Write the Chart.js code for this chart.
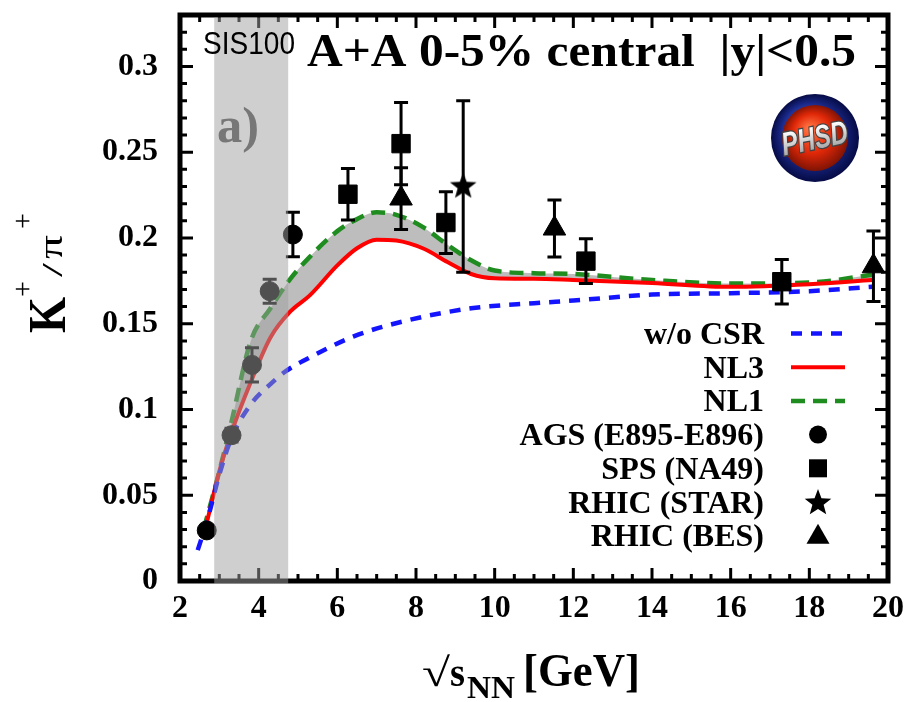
<!DOCTYPE html>
<html>
<head>
<meta charset="utf-8">
<script src="https://cdn.jsdelivr.net/npm/chart.js@4.4.1/dist/chart.umd.min.js"></script>
<style>
  body { margin: 0; background: #fff; }
  canvas { display: block; }
</style>
</head>
<body>
<canvas id="chart" width="908" height="702"></canvas>
<script>
// PHSD curves (NL3 and NL1 share the same energies so the band between them can be filled)
const curveX = [2.6, 3.0, 3.3, 3.8, 4.3, 4.8, 5.3, 6.0, 6.5, 7.0, 7.5, 8.2, 8.8, 9.4, 10.0, 11.0, 12.0, 14.0, 16.0, 18.0, 19.6];
const nl3 = [0.026, 0.064, 0.086, 0.116, 0.142, 0.157, 0.1665, 0.184, 0.194, 0.199, 0.1985, 0.1937, 0.186, 0.179, 0.1765, 0.1762, 0.1755, 0.1738, 0.1715, 0.173, 0.1755];
const nl1 = [0.030, 0.064, 0.092, 0.140, 0.159, 0.176, 0.189, 0.204, 0.211, 0.215, 0.2135, 0.206, 0.196, 0.187, 0.181, 0.1795, 0.179, 0.1755, 0.1734, 0.174, 0.1785];
const csrX = [2.45, 2.7, 3.0, 3.3, 3.8, 4.3, 4.7, 5.4, 6.4, 7.7, 9.4, 11.0, 12.0, 14.0, 16.0, 18.0, 19.6];
const noCsr = [0.018, 0.036, 0.062, 0.083, 0.103, 0.1148, 0.1225, 0.1315, 0.1425, 0.1515, 0.159, 0.162, 0.1635, 0.167, 0.1678, 0.169, 0.1715];

// measurements
const agsX = [2.68, 3.31, 3.83, 4.28, 4.87];
const agsY = [0.0295, 0.085, 0.126, 0.169, 0.202];
const agsErr = [0.002, 0.004, 0.010, 0.007, 0.013];
const na49X = [6.27, 7.62, 8.76, 12.32, 17.3];
const na49Y = [0.2255, 0.255, 0.209, 0.1865, 0.1745];
const na49Err = [0.015, 0.024, 0.018, 0.013, 0.013];
const starX = [9.2];
const starY = [0.230];
const starErr = [0.05];
const besX = [7.62, 11.52, 19.63];
const besY = [0.223, 0.2055, 0.1835];
const besErr = [0.018, 0.0166, 0.0205];

const xTicks = [2, 4, 6, 8, 10, 12, 14, 16, 18, 20];
const yTicks = [0, 0.05, 0.1, 0.15, 0.2, 0.25, 0.3];
const xMinorStep = 0.5;
const yMinorStep = 0.01;
const sisBand = [2.87, 4.75];

const legendLabels = ["w/o CSR", "NL3", "NL1", "AGS (E895-E896)", "SPS (NA49)", "RHIC (STAR)", "RHIC (BES)"];

const SERIF = '"Liberation Serif", "DejaVu Serif", serif';
const zip = (xs, ys) => xs.map((x, i) => ({ x, y: ys[i] }));

// filled five point star used as a point style
function makeStar(r) {
  const c = document.createElement("canvas");
  c.width = c.height = 2 * r + 2;
  const g = c.getContext("2d");
  starPath(g, r + 1, r + 1, r, r * 0.42);
  g.fillStyle = "#000";
  g.fill();
  return c;
}
function starPath(g, cx, cy, ro, ri) {
  g.beginPath();
  for (let i = 0; i < 10; i++) {
    const a = -Math.PI / 2 + (i * Math.PI) / 5;
    const r = i % 2 ? ri : ro;
    g.lineTo(cx + r * Math.cos(a), cy + r * Math.sin(a));
  }
  g.closePath();
}
const starImg = makeStar(14);

function fitText(ctx, text, x, y, font, w, align) {
  ctx.save();
  ctx.font = font;
  const m = ctx.measureText(text).width;
  const s = w ? w / m : 1;
  ctx.translate(x, y);
  ctx.scale(s, 1);
  ctx.textAlign = align || "left";
  ctx.fillText(text, 0, 0);
  ctx.restore();
}

function drawLogo(ctx, cx, cy) {
  ctx.save();
  let g = ctx.createRadialGradient(cx - 12, cy - 14, 4, cx, cy, 44);
  g.addColorStop(0, "#4a5fd0");
  g.addColorStop(0.6, "#1c2c90");
  g.addColorStop(1, "#060b45");
  ctx.fillStyle = g;
  ctx.beginPath(); ctx.arc(cx, cy, 44, 0, Math.PI * 2); ctx.fill();
  g = ctx.createRadialGradient(cx - 6, cy - 10, 2, cx, cy, 34);
  g.addColorStop(0, "#ff7040");
  g.addColorStop(0.55, "#e02808");
  g.addColorStop(1, "#7a1204");
  ctx.fillStyle = g;
  ctx.beginPath(); ctx.arc(cx, cy, 33, 0, Math.PI * 2); ctx.fill();
  ctx.translate(cx, cy + 2);
  ctx.rotate(-0.2);
  ctx.scale(1, 1.35);
  ctx.font = 'italic bold 24px "Liberation Sans", sans-serif';
  ctx.textAlign = "center";
  ctx.textBaseline = "middle";
  const tg = ctx.createLinearGradient(0, -10, 0, 10);
  tg.addColorStop(0, "#ffffff");
  tg.addColorStop(1, "#9a9a9a");
  ctx.lineWidth = 2;
  ctx.strokeStyle = "#444";
  ctx.strokeText("PHSD", 0, 0);
  ctx.fillStyle = tg;
  ctx.fillText("PHSD", 0, 0);
  ctx.restore();
}

const decorations = {
  id: "decorations",
  beforeDatasetDraw(chart, args) {
    const ds = chart.data.datasets[args.index];
    if (!ds.err) return;
    const { ctx, scales: { x, y } } = chart;
    ctx.save();
    ctx.strokeStyle = "#000";
    ctx.lineWidth = 3;
    ds.data.forEach((p, i) => {
      const px = x.getPixelForValue(p.x);
      const y1 = y.getPixelForValue(p.y - ds.err[i]);
      const y2 = y.getPixelForValue(p.y + ds.err[i]);
      ctx.beginPath();
      ctx.moveTo(px, y1); ctx.lineTo(px, y2);
      ctx.moveTo(px - 7, y1); ctx.lineTo(px + 7, y1);
      ctx.moveTo(px - 7, y2); ctx.lineTo(px + 7, y2);
      ctx.stroke();
    });
    ctx.restore();
  },
  afterDraw(chart) {
    const { ctx, chartArea: a, scales: { x, y } } = chart;
    ctx.save();
    ctx.fillStyle = "#000";
    ctx.strokeStyle = "#000";

    // ticks on all four sides, pointing inwards
    ctx.lineWidth = 3;
    ctx.beginPath();
    for (let v = x.min; v <= x.max + 1e-9; v += xMinorStep) {
      const px = x.getPixelForValue(v);
      const len = Math.abs(v / 2 - Math.round(v / 2)) < 1e-6 ? 13 : 7;
      ctx.moveTo(px, a.bottom); ctx.lineTo(px, a.bottom - len);
      ctx.moveTo(px, a.top); ctx.lineTo(px, a.top + len);
    }
    for (let i = 0; i * yMinorStep <= y.max + 1e-9; i++) {
      const py = y.getPixelForValue(i * yMinorStep);
      const len = i % 5 === 0 ? 13 : 7;
      ctx.moveTo(a.left, py); ctx.lineTo(a.left + len, py);
      ctx.moveTo(a.right, py); ctx.lineTo(a.right - len, py);
    }
    ctx.stroke();
    ctx.lineWidth = 5;
    ctx.strokeRect(a.left, a.top, a.right - a.left, a.bottom - a.top);

    // SIS100 energy range
    const bx1 = x.getPixelForValue(sisBand[0]);
    const bx2 = x.getPixelForValue(sisBand[1]);
    ctx.fillStyle = "rgba(160,160,160,0.5)";
    ctx.fillRect(bx1, a.top + 2.5, bx2 - bx1, a.bottom - a.top + 0.5);

    ctx.fillStyle = "#000";
    ctx.textBaseline = "alphabetic";
    fitText(ctx, "SIS100", 203, 54, '32px "Liberation Sans", sans-serif', 92);
    fitText(ctx, "A+A 0-5% central  |y|<0.5", 307, 66, "bold 46px " + SERIF, 549);
    ctx.fillStyle = "#777";
    fitText(ctx, "a)", 217, 142, "bold 50px " + SERIF, 42);

    drawLogo(ctx, 815, 138);

    // legend
    ctx.fillStyle = "#000";
    const lx = 764, sx1 = 791, sx2 = 845, mx = 818;
    legendLabels.forEach((t, i) => {
      const base = 344 + i * 33.7;
      ctx.font = "bold 32px " + SERIF;
      ctx.textAlign = "right";
      ctx.fillText(t, lx, base);
      const cy = base - 10.5;
      ctx.save();
      if (i < 3) {
        const ds = chart.data.datasets[4 + i];
        ctx.strokeStyle = ds.borderColor;
        ctx.lineWidth = ds.borderWidth;
        ctx.setLineDash(ds.borderDash || []);
        ctx.beginPath(); ctx.moveTo(sx1, cy); ctx.lineTo(sx2, cy); ctx.stroke();
      } else if (i === 3) {
        ctx.beginPath(); ctx.arc(mx, cy, 9, 0, Math.PI * 2); ctx.fill();
      } else if (i === 4) {
        ctx.fillRect(mx - 9, cy - 9, 18, 18);
      } else if (i === 5) {
        starPath(ctx, mx, cy + 1, 14, 5.9); ctx.fill();
      } else {
        ctx.beginPath();
        ctx.moveTo(mx, cy - 12); ctx.lineTo(mx + 11.5, cy + 8); ctx.lineTo(mx - 11.5, cy + 8);
        ctx.closePath(); ctx.fill();
      }
      ctx.restore();
    });

    // x axis title: sqrt(s_NN) [GeV]
    ctx.textAlign = "left";
    fitText(ctx, "\u221A", 422, 686, "40px " + SERIF, 28);
    fitText(ctx, "s", 450, 686, "bold 40px " + SERIF, 15);
    fitText(ctx, "NN", 467, 698, "bold 32px " + SERIF, 48);
    fitText(ctx, "[GeV]", 523, 686, "bold 46px " + SERIF, 117);

    // y axis title: K+/pi+
    ctx.save();
    ctx.translate(65, 335);
    ctx.rotate(-Math.PI / 2);
    fitText(ctx, "K", 2, 0, "bold 52px " + SERIF, 36);
    ctx.textBaseline = "middle";
    fitText(ctx, "+", 38, -41, "30px " + SERIF, 16);
    ctx.textBaseline = "alphabetic";
    fitText(ctx, "/", 58, -3, "30px " + SERIF, 14);
    fitText(ctx, "\u03C0", 76, -3, "34px " + SERIF, 24);
    ctx.textBaseline = "middle";
    fitText(ctx, "+", 106, -41, "30px " + SERIF, 16);
    ctx.restore();

    ctx.restore();
  }
};

new Chart(document.getElementById("chart"), {
  type: "scatter",
  data: {
    datasets: [
      { label: "AGS (E895-E896)", data: zip(agsX, agsY), err: agsErr, pointStyle: "circle", pointRadius: 9.5, backgroundColor: "#000", borderColor: "#000" },
      { label: "SPS (NA49)", data: zip(na49X, na49Y), err: na49Err, pointStyle: "rect", pointRadius: 13, backgroundColor: "#000", borderColor: "#000" },
      { label: "RHIC (STAR)", data: zip(starX, starY), err: starErr, pointStyle: starImg, pointRadius: 14 },
      { label: "RHIC (BES)", data: zip(besX, besY), err: besErr, pointStyle: "triangle", pointRadius: 13, backgroundColor: "#000", borderColor: "#000" },
      { label: "w/o CSR", type: "line", data: zip(csrX, noCsr), borderColor: "#1414ff", borderWidth: 4.5, borderDash: [11, 9], pointRadius: 0, cubicInterpolationMode: "monotone", fill: false },
      { label: "NL3", type: "line", data: zip(curveX, nl3), borderColor: "#ff0000", borderWidth: 4, pointRadius: 0, cubicInterpolationMode: "monotone", fill: false },
      { label: "NL1", type: "line", data: zip(curveX, nl1), borderColor: "#1e8c1e", borderWidth: 4.5, borderDash: [14, 8], pointRadius: 0, cubicInterpolationMode: "monotone", fill: "-1", backgroundColor: "#bdbdbd" }
    ]
  },
  options: {
    responsive: false,
    animation: false,
    devicePixelRatio: 1,
    layout: { padding: { top: 10, right: 20, bottom: 0, left: 0 } },
    plugins: { legend: { display: false }, tooltip: { enabled: false } },
    scales: {
      x: {
        type: "linear",
        min: 2,
        max: 20,
        afterBuildTicks: s => { s.ticks = xTicks.map(v => ({ value: v })); },
        afterFit: s => { s.height = 121; s.paddingLeft = 0; s.paddingRight = 0; },
        grid: { display: false, drawTicks: false },
        border: { display: false },
        ticks: { color: "#000", padding: 9, maxRotation: 0, font: { family: SERIF, size: 32, weight: "bold" } }
      },
      y: {
        min: 0,
        max: 0.33,
        afterBuildTicks: s => { s.ticks = yTicks.map(v => ({ value: v })); },
        afterFit: s => { s.width = 180; s.paddingTop = 0; s.paddingBottom = 0; },
        grid: { display: false, drawTicks: false },
        border: { display: false },
        ticks: { color: "#000", padding: 22, callback: v => String(v), font: { family: SERIF, size: 32, weight: "bold" } }
      }
    }
  },
  plugins: [decorations]
});
</script>
</body>
</html>
